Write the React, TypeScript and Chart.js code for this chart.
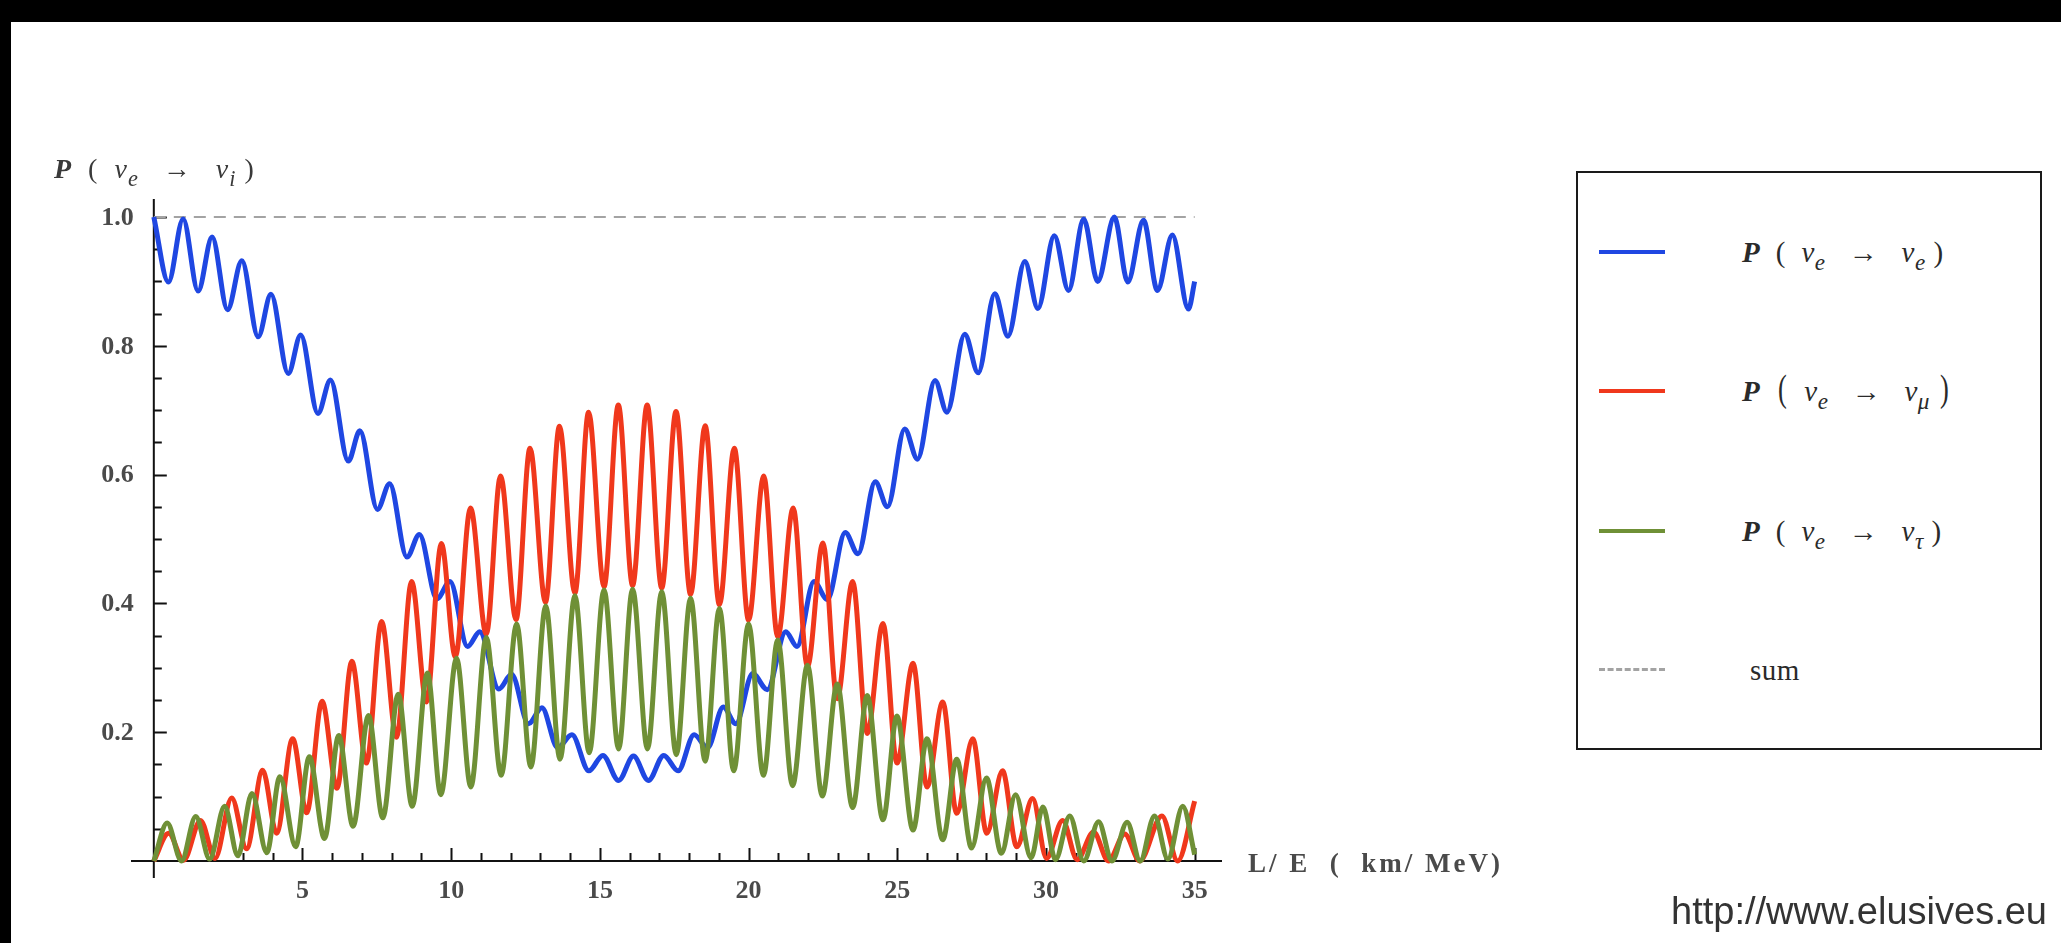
import React, { useEffect, useRef } from "react";
import { Chart, registerables } from "chart.js";

Chart.register(...registerables);

// ---- data (extrema of each curve) ----
const blueX = [
  0, 0.49, 0.985, 1.49, 1.96, 2.48, 2.96, 3.51, 3.94, 4.52, 4.94, 5.52, 5.94, 6.54, 6.93, 7.52, 7.93,
  8.51, 8.93, 9.52, 9.96, 10.55, 10.96, 11.6, 12.03, 12.6, 13.05, 13.58, 14.06, 14.63, 15.1, 15.63,
  16.13, 16.63, 17.15, 17.63, 18.17, 18.62, 19.15, 19.57, 20.14, 20.63, 21.25, 21.63, 22.2, 22.65,
  23.25, 23.68, 24.26, 24.67, 25.25, 25.68, 26.27, 26.67, 27.27, 27.72, 28.28, 28.72, 29.29, 29.73,
  30.28, 30.76, 31.27, 31.74, 32.3, 32.75, 33.28, 33.75, 34.25, 34.79, 35.0,
];
const blueY = [
  1.0, 0.899, 0.997, 0.885, 0.969, 0.856, 0.932, 0.814, 0.88, 0.757, 0.817, 0.695, 0.747, 0.621, 0.668,
  0.546, 0.586, 0.472, 0.507, 0.407, 0.434, 0.333, 0.356, 0.267, 0.29, 0.213, 0.238, 0.176, 0.196, 0.14,
  0.164, 0.125, 0.163, 0.125, 0.164, 0.14, 0.196, 0.176, 0.239, 0.213, 0.291, 0.266, 0.356, 0.333, 0.434,
  0.406, 0.51, 0.477, 0.589, 0.55, 0.671, 0.624, 0.746, 0.697, 0.818, 0.758, 0.881, 0.815, 0.931, 0.858,
  0.971, 0.886, 0.997, 0.9, 1.0, 0.899, 0.995, 0.886, 0.972, 0.857, 0.9,
];

const redX = [
  0, 0.5, 1.0, 1.57, 2.06, 2.62, 3.12, 3.66, 4.13, 4.67, 5.14, 5.66, 6.16, 6.66, 7.15, 7.66, 8.16, 8.67,
  9.17, 9.67, 10.14, 10.65, 11.18, 11.66, 12.18, 12.65, 13.17, 13.64, 14.16, 14.62, 15.14, 15.62, 16.1,
  16.59, 17.08, 17.56, 18.05, 18.54, 19.02, 19.52, 20.0, 20.51, 20.98, 21.5, 21.98, 22.5, 22.98, 23.5,
  23.99, 24.52, 24.99, 25.53, 26.0, 26.53, 27.0, 27.54, 28.01, 28.54, 29.02, 29.55, 30.02, 30.56, 31.05,
  31.6, 32.1, 32.65, 33.15, 33.9, 34.43, 35.0,
];
const redY = [
  0, 0.043, 0.001, 0.063, 0.004, 0.098, 0.019, 0.141, 0.043, 0.19, 0.075, 0.248, 0.113, 0.31, 0.152, 0.372,
  0.192, 0.434, 0.247, 0.493, 0.317, 0.548, 0.352, 0.598, 0.375, 0.641, 0.402, 0.675, 0.416, 0.697, 0.426,
  0.708, 0.428, 0.708, 0.424, 0.698, 0.414, 0.676, 0.398, 0.641, 0.374, 0.598, 0.348, 0.548, 0.302, 0.494,
  0.252, 0.434, 0.198, 0.369, 0.152, 0.307, 0.115, 0.247, 0.074, 0.19, 0.043, 0.14, 0.022, 0.097, 0.004,
  0.063, 0.002, 0.045, 0.0, 0.042, 0.0, 0.07, 0.0, 0.093,
];

const greenX = [
  0, 0.45, 0.93, 1.41, 1.88, 2.38, 2.83, 3.3, 3.8, 4.24, 4.77, 5.23, 5.74, 6.22, 6.7, 7.22, 7.7, 8.22,
  8.69, 9.2, 9.65, 10.18, 10.66, 11.18, 11.68, 12.2, 12.68, 13.18, 13.66, 14.16, 14.64, 15.14, 15.63,
  16.1, 16.6, 17.08, 17.57, 18.05, 18.54, 19.02, 19.5, 20.0, 20.5, 20.98, 21.48, 21.98, 22.48, 22.98,
  23.5, 23.99, 24.52, 24.99, 25.53, 26.0, 26.53, 27.0, 27.5, 28.0, 28.5, 28.98, 29.5, 29.9, 30.32, 30.8,
  31.27, 31.77, 32.22, 32.73, 33.17, 33.65, 34.1, 34.6, 35.0,
];
const greenY = [
  0, 0.059, 0.0, 0.069, 0.003, 0.085, 0.008, 0.105, 0.013, 0.131, 0.022, 0.162, 0.035, 0.195, 0.054, 0.226,
  0.067, 0.259, 0.085, 0.292, 0.103, 0.315, 0.115, 0.347, 0.133, 0.368, 0.146, 0.396, 0.158, 0.412, 0.168,
  0.421, 0.174, 0.422, 0.174, 0.418, 0.165, 0.408, 0.155, 0.392, 0.14, 0.368, 0.133, 0.343, 0.117, 0.304,
  0.101, 0.275, 0.083, 0.257, 0.064, 0.225, 0.048, 0.19, 0.033, 0.158, 0.02, 0.129, 0.012, 0.103, 0.005,
  0.084, 0.002, 0.07, 0.0, 0.061, 0.0, 0.06, 0.0, 0.07, 0.003, 0.085, 0.01,
];

const sumX = [0, 35];
const sumY = [1, 1];

const seriesLabels = ["P(νe→νe)", "P(νe→νμ)", "P(νe→ντ)", "sum"];
const xTickValues = [5, 10, 15, 20, 25, 30, 35];
const xTickLabels = ["5", "10", "15", "20", "25", "30", "35"];
const yTickValues = [0.2, 0.4, 0.6, 0.8, 1.0];
const yTickLabels = ["0.2", "0.4", "0.6", "0.8", "1.0"];

const BLUE = "#1f47e2";
const RED = "#f0381c";
const GREEN = "#6f9036";
const GRAY = "#a3a3a3";

const W = 2061;
const H = 943;

const toPoints = (xs: number[], ys: number[]) => xs.map((x, i) => ({ x, y: ys[i] }));

const axesPlugin = {
  id: "mmaAxes",
  beforeDatasetsDraw(chart: any) {
    const { ctx, chartArea } = chart;
    const xs = chart.scales.x;
    const ys = chart.scales.y;
    const x0 = xs.getPixelForValue(0);
    const y0 = ys.getPixelForValue(0);
    ctx.save();
    ctx.strokeStyle = "#111";
    ctx.lineWidth = 2;
    ctx.beginPath();
    ctx.moveTo(chartArea.left, y0);
    ctx.lineTo(chartArea.right, y0);
    ctx.moveTo(x0, chartArea.top);
    ctx.lineTo(x0, chartArea.bottom);
    ctx.stroke();
    ctx.beginPath();
    for (let i = 1; i <= 35; i++) {
      const px = Math.round(xs.getPixelForValue(i)) + 0.5;
      const len = i % 5 === 0 ? 13 : 8;
      ctx.moveTo(px, y0);
      ctx.lineTo(px, y0 - len);
    }
    for (let j = 1; j <= 20; j++) {
      const py = Math.round(ys.getPixelForValue(j * 0.05)) + 0.5;
      const len = j % 4 === 0 ? 13 : 8;
      ctx.moveTo(x0, py);
      ctx.lineTo(x0 + len, py);
    }
    ctx.stroke();
    ctx.fillStyle = "#4a4a4a";
    ctx.font = 'bold 26px "Liberation Serif", serif';
    ctx.textAlign = "center";
    ctx.textBaseline = "middle";
    xTickValues.forEach((v, i) => ctx.fillText(xTickLabels[i], xs.getPixelForValue(v), y0 + 30));
    ctx.textAlign = "right";
    yTickValues.forEach((v, i) => ctx.fillText(yTickLabels[i], x0 - 20, ys.getPixelForValue(v) + 1));
    ctx.restore();
  },
};

const serif = '"Liberation Serif", "DejaVu Serif", serif';

function Nu({ sub }: { sub: string }) {
  return (
    <span>
      <i>ν</i>
      <sub style={{ fontSize: "0.8em", verticalAlign: "-0.35em", fontStyle: "italic" }}>{sub}</sub>
    </span>
  );
}

function ProbLabel({ to, big }: { to: string; big?: boolean }) {
  const paren: React.CSSProperties = big
    ? { fontSize: "1.3em", display: "inline-block", transform: "scaleX(0.7)", lineHeight: 0 }
    : {};
  return (
    <span style={{ whiteSpace: "pre" }}>
      <b>
        <i>P</i>
      </b>
      {"  "}
      <span style={paren}>(</span>
      {"  "}
      <Nu sub="e" />
      {"   →   "}
      <Nu sub={to} />
      {" "}
      <span style={paren}>)</span>
    </span>
  );
}

export default function App() {
  const canvasRef = useRef<HTMLCanvasElement | null>(null);

  useEffect(() => {
    const canvas = canvasRef.current;
    if (!canvas) return;
    const chart = new Chart(canvas, {
      type: "line",
      data: {
        datasets: [
          {
            label: seriesLabels[0],
            data: toPoints(blueX, blueY),
            borderColor: BLUE,
            borderWidth: 5,
            pointRadius: 0,
            cubicInterpolationMode: "monotone",
            order: 3,
          },
          {
            label: seriesLabels[1],
            data: toPoints(redX, redY),
            borderColor: RED,
            borderWidth: 5,
            pointRadius: 0,
            cubicInterpolationMode: "monotone",
            order: 2,
          },
          {
            label: seriesLabels[2],
            data: toPoints(greenX, greenY),
            borderColor: GREEN,
            borderWidth: 5,
            pointRadius: 0,
            cubicInterpolationMode: "monotone",
            order: 1,
          },
          {
            label: seriesLabels[3],
            data: toPoints(sumX, sumY),
            borderColor: GRAY,
            borderWidth: 2,
            borderDash: [12, 8],
            pointRadius: 0,
            order: 4,
          },
        ],
      },
      options: {
        animation: false,
        responsive: false,
        devicePixelRatio: 1,
        layout: { padding: { left: 131, right: W - 1222, top: 199, bottom: H - 878 } },
        plugins: { legend: { display: false }, tooltip: { enabled: false }, title: { display: false } },
        events: [],
        scales: {
          x: { type: "linear", min: -0.767, max: 35.92, display: false },
          y: { type: "linear", min: -0.0264, max: 1.028, display: false },
        },
      },
      plugins: [axesPlugin],
    });
    return () => chart.destroy();
  }, []);

  const legendRow = (top: number, color: string, dashed: boolean, content: React.ReactNode, left = 164) => (
    <div style={{ position: "absolute", left: 0, top, width: "100%", height: 0 }}>
      <div
        style={{
          position: "absolute",
          left: 21,
          top: -2,
          width: 66,
          height: 0,
          borderTop: dashed ? `3px dashed ${color}` : `4px solid ${color}`,
        }}
      />
      <div
        style={{
          position: "absolute",
          left,
          top: -20,
          lineHeight: "40px",
          fontFamily: serif,
          fontSize: 29,
          letterSpacing: "0.5px",
          color: "#2a2a2a",
          whiteSpace: "pre",
        }}
      >
        {content}
      </div>
    </div>
  );

  return (
    <div
      style={{
        position: "absolute",
        left: 0,
        top: 0,
        width: W,
        height: H,
        background: "#fff",
        overflow: "hidden",
      }}
    >
      <div style={{ position: "absolute", left: 0, top: 0, width: W, height: 22, background: "#000" }} />
      <div style={{ position: "absolute", left: 0, top: 0, width: 11, height: H, background: "#000" }} />
      <canvas
        ref={canvasRef}
        width={W}
        height={H}
        style={{ position: "absolute", left: 0, top: 0, width: W, height: H }}
      />
      <div
        style={{
          position: "absolute",
          left: 54,
          top: 149,
          lineHeight: "40px",
          fontFamily: serif,
          fontSize: 28,
          letterSpacing: "1px",
          color: "#3a3a3a",
          whiteSpace: "pre",
        }}
      >
        <ProbLabel to="i" />
      </div>
      <div
        style={{
          position: "absolute",
          left: 1248,
          top: 843,
          lineHeight: "40px",
          fontFamily: serif,
          fontSize: 27,
          fontWeight: "bold",
          color: "#4a4a4a",
          letterSpacing: "3px",
          whiteSpace: "pre",
        }}
      >
        {"L/ E  (  km/ MeV)"}
      </div>
      <div
        style={{
          position: "absolute",
          left: 1576,
          top: 171,
          width: 462,
          height: 575,
          border: "2px solid #1a1a1a",
          background: "#fff",
        }}
      >
        {legendRow(79, BLUE, false, <ProbLabel to="e" />)}
        {legendRow(218, RED, false, <ProbLabel to="μ" big />)}
        {legendRow(358, GREEN, false, <ProbLabel to="τ" />)}
        {legendRow(497, GRAY, true, <span>sum</span>, 172)}
      </div>
      <div
        style={{
          position: "absolute",
          left: 1671,
          top: 890,
          lineHeight: "42px",
          fontFamily: '"Liberation Sans", Arial, sans-serif',
          fontWeight: 300,
          fontSize: 38,
          color: "#333",
          whiteSpace: "pre",
        }}
      >
        http://www.elusives.eu
      </div>
    </div>
  );
}
